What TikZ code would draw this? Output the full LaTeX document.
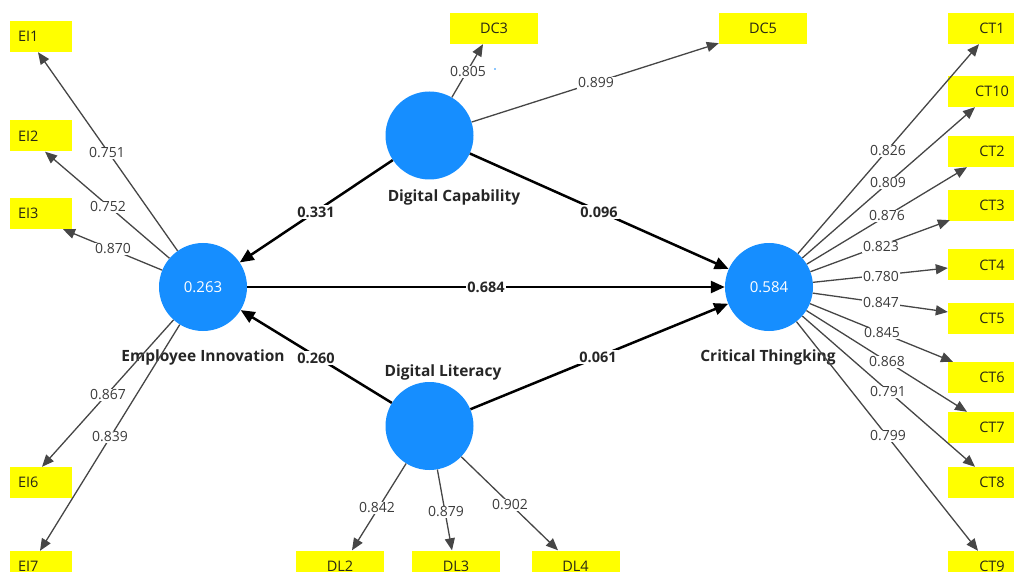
\documentclass[tikz,border=0pt]{standalone}
\usepackage{fontspec}
\setmainfont{Open Sans}
\usetikzlibrary{arrows.meta}
\definecolor{latentblue}{RGB}{22,142,255}
\definecolor{itemyellow}{RGB}{255,255,0}
\definecolor{itemtext}{RGB}{40,40,20}
\definecolor{loadline}{RGB}{70,70,70}
\definecolor{loadtext}{RGB}{60,60,60}
\begin{document}
\begin{tikzpicture}[x=1pt,y=1pt,
  latent/.style={circle, fill=latentblue, minimum size=88pt, inner sep=0pt,
    text=white, font=\fontsize{15}{17}\selectfont},
  latentname/.style={inner sep=0pt, text=black!85, font=\fontsize{15.5}{18}\selectfont\bfseries},
  item/.style={rectangle, fill=itemyellow, minimum width=88pt, minimum height=31pt,
    inner sep=0pt, text=itemtext, font=\fontsize{14.5}{17}\selectfont},
  eiitem/.style={item, minimum width=62pt, text width=46pt, align=left, inner xsep=8pt},
  loading/.style={draw=loadline, line width=1.3pt, -{Triangle[length=12pt,width=10pt]}},
  pathcoef/.style={draw=black, line width=2.5pt, -{Triangle[length=14pt,width=12pt]}},
  loadlabel/.style={fill=white, inner sep=1.2pt, text=loadtext, font=\fontsize{14}{16}\selectfont},
  pathlabel/.style={fill=white, inner sep=1.2pt, text=black!85, font=\fontsize{14.5}{17}\selectfont\bfseries}
]
\useasboundingbox (0,0) rectangle (1014,571);

% latent constructs
\node[latent] (EI) at (203,284) {0.263};
\node[latent] (DC) at (429.5,435.5) {};
\node[latent] (DL) at (429.5,145) {};
\node[latent] (CT) at (769,284) {0.584};

\node[latentname] (EIn) at (203,214) {Employee Innovation};
\node[latentname] (DCn) at (454,374) {Digital Capability};
\node[latentname] (DLn) at (443,199) {Digital Literacy};
\node[latentname] (CTn) at (768,214) {Critical Thingking};

% indicators
\node[eiitem] (EI1) at (41,534.5) {EI1};
\node[eiitem] (EI2) at (41,435) {EI2};
\node[eiitem] (EI3) at (41,357.5) {EI3};
\node[eiitem] (EI6) at (41,88.5) {EI6};
\node[eiitem] (EI7) at (41,4.5) {EI7};

\node[item] (DC3) at (494,542.5) {DC3};
\node[item] (DC5) at (763,542.5) {DC5};

\node[item] (DL2) at (340,5) {DL2};
\node[item] (DL3) at (456,5) {DL3};
\node[item] (DL4) at (575.5,5) {DL4};

\node[item] (CT1) at (992,542.5) {CT1};
\node[item] (CT10) at (992,479.5) {CT10};
\node[item] (CT2) at (992,419.5) {CT2};
\node[item] (CT3) at (992,365.5) {CT3};
\node[item] (CT4) at (992,306) {CT4};
\node[item] (CT5) at (992,253) {CT5};
\node[item] (CT6) at (992,193.5) {CT6};
\node[item] (CT7) at (992,143.5) {CT7};
\node[item] (CT8) at (992,88.5) {CT8};
\node[item] (CT9) at (992,4.5) {CT9};

% outer loadings
\draw[loading] (EI) -- ([xshift=-3pt]EI1.south);
\draw[loading] (EI) -- ([xshift=4pt]EI2.south);
\draw[loading] (EI) -- ([xshift=22pt]EI3.south);
\draw[loading] (EI) -- ([xshift=1pt]EI6.north);
\draw[loading] (EI) -- ([xshift=-1pt]EI7.north);

\draw[loading] (DC) -- ([xshift=-11pt]DC3.south);
\draw[loading] (DC) -- ([yshift=1pt]DC5.south west);

\draw[loading] (DL) -- ([xshift=12pt]DL2.north);
\draw[loading] (DL) -- ([xshift=-4pt]DL3.north);
\draw[loading] (DL) -- ([xshift=-17.5pt]DL4.north);

\draw[loading] (CT) -- ([xshift=-13pt]CT1.south);
\draw[loading] (CT) -- ([xshift=-17pt]CT10.south);
\draw[loading] (CT) -- ([xshift=-25pt]CT2.south);
\draw[loading] (CT) -- ([xshift=2pt,yshift=1pt]CT3.south west);
\draw[loading] (CT) -- ([yshift=-3pt]CT4.west);
\draw[loading] (CT) -- ([yshift=6pt]CT5.west);
\draw[loading] (CT) -- ([xshift=-39pt]CT6.north);
\draw[loading] (CT) -- ([xshift=-25pt]CT7.north);
\draw[loading] (CT) -- ([xshift=-17pt]CT8.north);
\draw[loading] (CT) -- ([xshift=-14pt]CT9.north);

% structural paths
\draw[pathcoef] (DC) -- (EI);
\draw[pathcoef] (DL) -- (EI);
\draw[pathcoef] (EI) -- (CT);
\draw[pathcoef] (DC) -- (CT);
\draw[pathcoef] (DL) -- (CT);

% loading values
\node[loadlabel] (vEI1) at (107,418) {0.751};
\node[loadlabel] (vEI2) at (108,364) {0.752};
\node[loadlabel] (vEI3) at (113,322) {0.870};
\node[loadlabel] (vEI6) at (108,176) {0.867};
\node[loadlabel] (vEI7) at (110,134) {0.839};

\node[loadlabel] (vDC3) at (468,499) {0.805};
\node[loadlabel] (vDC5) at (596,488) {0.899};
\fill[latentblue] (495,502) circle (0.8pt);

\node[loadlabel] (vDL2) at (377,63) {0.842};
\node[loadlabel] (vDL3) at (446,59) {0.879};
\node[loadlabel] (vDL4) at (510,66) {0.902};

\node[loadlabel] (vCT1) at (888,420) {0.826};
\node[loadlabel] (vCT10) at (888,388) {0.809};
\node[loadlabel] (vCT2) at (887,355) {0.876};
\node[loadlabel] (vCT3) at (881,324) {0.823};
\node[loadlabel] (vCT4) at (881,294) {0.780};
\node[loadlabel] (vCT5) at (881,268) {0.847};
\node[loadlabel] (vCT6) at (882,238) {0.845};
\node[loadlabel] (vCT7) at (887,209) {0.868};
\node[loadlabel] (vCT8) at (888,179) {0.791};
\node[loadlabel] (vCT9) at (888,135) {0.799};

% path coefficients
\node[pathlabel] (bDCEI) at (316,359) {0.331};
\node[pathlabel] (bDLEI) at (316,213) {0.260};
\node[pathlabel] (bEICT) at (486,284) {0.684};
\node[pathlabel] (bDCCT) at (599,359) {0.096};
\node[pathlabel] (bDLCT) at (598,214) {0.061};
\end{tikzpicture}
\end{document}
